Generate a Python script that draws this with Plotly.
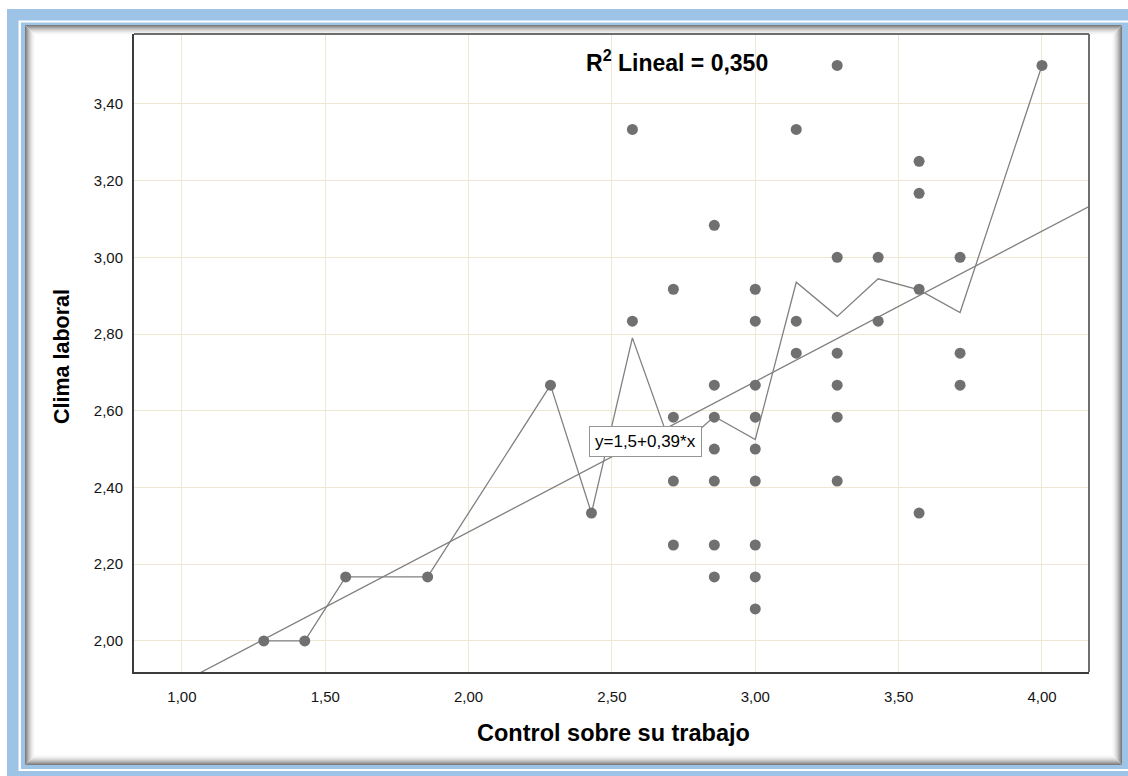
import plotly.graph_objects as go

# ---- data ----
control = [1.2857, 1.4286, 1.5714, 1.8571, 2.2857, 2.4286,
           2.5714, 2.5714,
           2.7143, 2.7143, 2.7143, 2.7143,
           2.8571, 2.8571, 2.8571, 2.8571, 2.8571, 2.8571, 2.8571,
           3.0, 3.0, 3.0, 3.0, 3.0, 3.0, 3.0, 3.0, 3.0,
           3.1429, 3.1429, 3.1429,
           3.2857, 3.2857, 3.2857, 3.2857, 3.2857, 3.2857,
           3.4286, 3.4286,
           3.5714, 3.5714, 3.5714, 3.5714,
           3.7143, 3.7143, 3.7143,
           4.0]
clima = [2.0, 2.0, 2.1667, 2.1667, 2.6667, 2.3333,
         3.3333, 2.8333,
         2.9167, 2.5833, 2.4167, 2.25,
         3.0833, 2.6667, 2.5833, 2.5, 2.4167, 2.25, 2.1667,
         2.9167, 2.8333, 2.6667, 2.5833, 2.5, 2.4167, 2.25, 2.1667, 2.0833,
         3.3333, 2.8333, 2.75,
         3.5, 3.0, 2.75, 2.6667, 2.5833, 2.4167,
         3.0, 2.8333,
         3.25, 3.1667, 2.9167, 2.3333,
         3.0, 2.75, 2.6667,
         3.5]

mean_x = [1.2857, 1.4286, 1.5714, 1.8571, 2.2857, 2.4286, 2.5714, 2.7143,
          2.8571, 3.0, 3.1429, 3.2857, 3.4286, 3.5714, 3.7143, 4.0]
mean_y = [2.0, 2.0, 2.1667, 2.1667, 2.6667, 2.3333, 2.79, 2.49,
          2.585, 2.525, 2.935, 2.846, 2.944, 2.915, 2.856, 3.5]

intercept = 1.5
slope = 0.392
r2_text = "R<sup>2</sup> Lineal = 0,350"
eq_text = "y=1,5+0,39*x"

x_ticks = [1.0, 1.5, 2.0, 2.5, 3.0, 3.5, 4.0]
y_ticks = [2.0, 2.2, 2.4, 2.6, 2.8, 3.0, 3.2, 3.4]
x_range = [0.833, 4.164]
y_range = [1.919, 3.582]

# ---- geometry ----
W, H = 1128, 776
L, R, T, B = 134, 1089, 34, 672


def px(x):
    return (x - L) / (R - L)


def py(y):
    return (B - y) / (B - T)


FONT = "Liberation Sans, Arial, sans-serif"
fig = go.Figure()

fit_x = [x_range[0], x_range[1]]
fit_y = [intercept + slope * v for v in fit_x]
fig.add_trace(go.Scatter(x=fit_x, y=fit_y, mode="lines",
                         line=dict(color="rgb(128,128,128)", width=1.3),
                         hoverinfo="skip", showlegend=False))
fig.add_trace(go.Scatter(x=mean_x, y=mean_y, mode="lines",
                         line=dict(color="rgb(128,128,128)", width=1.3),
                         hoverinfo="skip", showlegend=False))
fig.add_trace(go.Scatter(x=control, y=clima, mode="markers",
                         marker=dict(color="rgb(112,112,112)", size=11,
                                     line=dict(width=0)),
                         showlegend=False))

shapes = []
blue = "rgb(157,195,230)"


def rect(x0, y0, x1, y1, fill=None, line=None, lw=0):
    d = dict(type="rect", xref="paper", yref="paper",
             x0=px(x0), x1=px(x1), y0=py(y0), y1=py(y1), layer="below",
             line=dict(width=lw, color=line if line else "rgba(0,0,0,0)"))
    if fill:
        d["fillcolor"] = fill
    return d


shapes.append(rect(7, 9, 1128, 776, fill=blue))
shapes.append(rect(18.5, 20.5, 1128, 771, fill="white"))
shapes.append(rect(21, 22.5, 1128, 769, fill=blue))
shapes.append(rect(25, 25, 1122, 765, fill="white"))
# shadow gradient
shades = [125, 145, 165, 184, 200, 215, 228, 238, 246, 251]
for i, s in enumerate(shades):
    c = f"rgb({s},{s},{s})"
    shapes.append(rect(25.5 + i, 25.5 + i, 1121.5 - i, 764.5 - i, line=c, lw=1))

# top/right frame lines (lighter)
shapes.append(dict(type="line", xref="paper", yref="paper", x0=0, x1=1, y0=1, y1=1,
                   line=dict(color="rgb(110,110,110)", width=2)))
shapes.append(dict(type="line", xref="paper", yref="paper", x0=1, x1=1, y0=0, y1=1,
                   line=dict(color="rgb(110,110,110)", width=2)))

annotations = [
    dict(text="<b>" + r2_text + "</b>", xref="paper", yref="paper",
         x=px(584), y=py(61), xanchor="left", yanchor="middle", showarrow=False,
         font=dict(family=FONT, size=23, color="black")),
    dict(text=eq_text, xref="paper", yref="paper",
         x=px(645.5), y=py(441), xanchor="center", yanchor="middle", showarrow=False,
         font=dict(family=FONT, size=17, color="black"),
         bgcolor="white", bordercolor="rgb(150,150,150)", borderwidth=1, borderpad=5),
    dict(text="<b>Control sobre su trabajo</b>", xref="paper", yref="paper",
         x=px(613), y=py(733), xanchor="center", yanchor="middle", showarrow=False,
         font=dict(family=FONT, size=23.5, color="black")),
    dict(text="<b>Clima laboral</b>", xref="paper", yref="paper",
         x=px(62), y=py(357), xanchor="center", yanchor="middle", showarrow=False,
         textangle=-90, font=dict(family=FONT, size=21.5, color="black")),
]

grid = "rgb(237,231,212)"
fig.update_layout(
    width=W, height=H,
    margin=dict(l=L, r=W - R, t=T, b=H - B),
    paper_bgcolor="white", plot_bgcolor="rgba(0,0,0,0)",
    separators=",.",
    shapes=shapes, annotations=annotations,
    xaxis=dict(range=x_range, tickvals=x_ticks, tickformat=".2f",
               showgrid=True, gridcolor=grid, gridwidth=1, zeroline=False,
               showline=True, linecolor="rgb(60,60,60)", linewidth=2,
               ticks="", ticklabelstandoff=10,
               tickfont=dict(family=FONT, size=15, color="rgb(20,20,20)")),
    yaxis=dict(range=y_range, tickvals=y_ticks, tickformat=".2f",
               showgrid=True, gridcolor=grid, gridwidth=1, zeroline=False,
               showline=True, linecolor="rgb(60,60,60)", linewidth=2,
               ticks="", ticklabelstandoff=6,
               tickfont=dict(family=FONT, size=15, color="rgb(20,20,20)")),
    showlegend=False,
)

fig.write_html("out.html", config={"displayModeBar": False},
               post_script="document.body.style.margin='0';"
                           "document.body.style.padding='0';")
